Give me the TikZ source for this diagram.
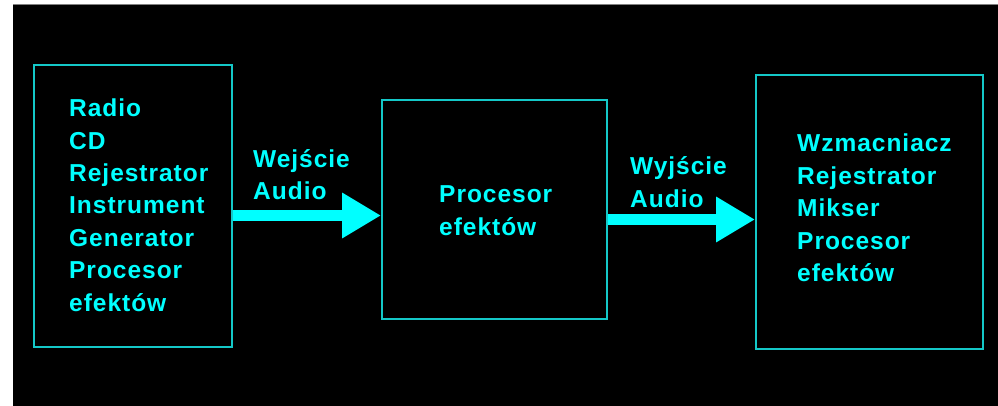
\documentclass[tikz,border=0pt]{standalone}
\usepackage{fontspec}
\setmainfont{Liberation Sans}
\newfontfamily\diagfont[LetterSpace=4]{Liberation Sans}
\usetikzlibrary{arrows.meta}
\definecolor{linecyan}{RGB}{20,200,200}
\definecolor{txtcyan}{RGB}{0,255,255}
\tikzset{
  blockbox/.style={draw=linecyan, line width=2pt, inner sep=0pt, fill=none},
  txt/.style={anchor=base west, inner sep=0pt, text=txtcyan,
    font=\diagfont\bfseries\fontsize{24.5}{30}\selectfont},
  bigarrow/.style={draw=txtcyan, line width=11pt,
    -{Triangle[length=39pt,width=43pt,fill=txtcyan]}}
}
\begin{document}
\begin{tikzpicture}[x=1pt,y=-1pt]
\useasboundingbox (0,0) rectangle (998,406);
\fill[white] (0,0) rectangle (998,406);
\fill[black] (13,4) rectangle (998,406);
\draw[gray, line width=1pt] (13,4.5) -- (998,4.5);
% boxes
\node[blockbox, minimum width=198pt, minimum height=282pt] (src) at (133,206) {};
\node[blockbox, minimum width=225pt, minimum height=219pt] (proc) at (494.5,209.5) {};
\node[blockbox, minimum width=227pt, minimum height=274pt] (dst) at (869.5,212) {};
% left text
\node[txt] (s1) at (69,117) {Radio};
\node[txt] (s2) at (69,149.3) {CD};
\node[txt] (s3) at (69,181.6) {Rejestrator};
\node[txt] (s4) at (69,214) {Instrument};
\node[txt] (s5) at (69,246.3) {Generator};
\node[txt] (s6) at (69,278.6) {Procesor};
\node[txt] (s7) at (69,311) {efektów};
% middle text
\node[txt] (p1) at (439,203) {Procesor};
\node[txt] (p2) at (439,235.3) {efektów};
% right text
\node[txt] (d1) at (797,152) {Wzmacniacz};
\node[txt] (d2) at (797,184.3) {Rejestrator};
\node[txt] (d3) at (797,216.6) {Mikser};
\node[txt] (d4) at (797,249) {Procesor};
\node[txt] (d5) at (797,281.3) {efektów};
% arrow labels
\node[txt] (w1) at (253,167.5) {Wejście};
\node[txt] (w2) at (253,199.8) {Audio};
\node[txt] (y1) at (630,175) {Wyjście};
\node[txt] (y2) at (630,207.3) {Audio};
% arrows
\coordinate (ya) at (0,215.5);
\coordinate (yb) at (0,219.5);
\draw[bigarrow] (src.east |- ya) -- (proc.west |- ya);
\draw[bigarrow] (proc.east |- yb) -- (dst.west |- yb);
\end{tikzpicture}
\end{document}
